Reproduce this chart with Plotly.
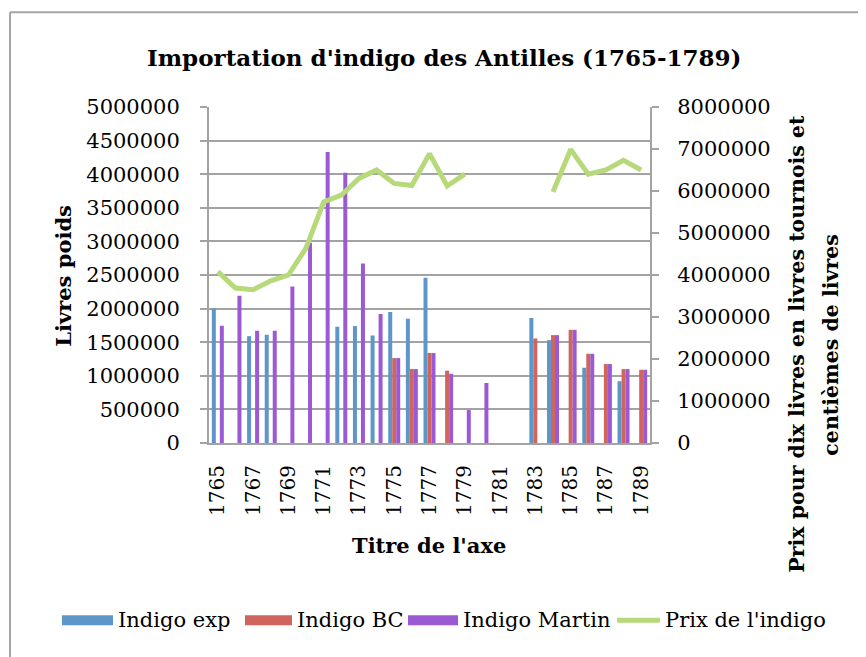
import plotly.graph_objects as go

years = list(range(1765, 1790))
indigo_exp = [2000000, None, 1590000, 1610000, None, None, None, 1730000, 1740000, 1600000,
              1950000, 1850000, 2460000, None, None, None, None, None, 1860000, 1530000,
              None, 1120000, None, 920000, None]
indigo_bc = [None, None, None, None, None, None, None, None, None, None,
             1264000, 1100000, 1340000, 1076000, None, None, None, None, 1556000, 1605000,
             1684000, 1328000, 1175000, 1100000, 1090000]
indigo_martin = [1745000, 2190000, 1670000, 1670000, 2330000, 2980000, 4330000, 4020000, 2670000, 1920000,
                 1264000, 1100000, 1338000, 1030000, 490000, 893000, None, None, None, 1605000,
                 1684000, 1328000, 1175000, 1100000, 1090000]
prix = [4080000, 3690000, 3650000, 3860000, 4000000, 4640000, 5740000, 5900000, 6300000, 6500000,
        6180000, 6130000, 6890000, 6120000, 6400000, None, None, None, None, 5980000,
        6990000, 6400000, 6500000, 6730000, 6500000]
tick_years = list(range(1765, 1790, 2))

# page body has an 8px margin: figure origin sits at (8, 8) in the window
OFF = 8
W, H = 866 - OFF, 657 - OFF
L, R, T, B = 209, 650, 107, 443.5   # window pixel coords of plot area
FONT = "DejaVu Serif"
GRID = "#A3A3A3"
C_EXP, C_BC, C_MAR, C_PRIX = "#5E96CA", "#CF655D", "#9B5AD3", "#B6D97A"

def px(x):
    return (x - L) / (R - L)

def py(y):
    return (B - y) / (B - T)

fig = go.Figure()
fig.add_trace(go.Bar(x=years, y=indigo_exp, name="Indigo exp", marker_color=C_EXP, marker_line_width=0))
fig.add_trace(go.Bar(x=years, y=indigo_bc, name="Indigo BC", marker_color=C_BC, marker_line_width=0))
fig.add_trace(go.Bar(x=years, y=indigo_martin, name="Indigo Martin", marker_color=C_MAR, marker_line_width=0))
fig.add_trace(go.Scatter(x=years, y=prix, name="Prix de l'indigo", yaxis="y2", mode="lines",
                         line=dict(color=C_PRIX, width=5), connectgaps=False))

fig.update_layout(
    width=W, height=H,
    margin=dict(l=L - OFF, r=866 - R, t=T - OFF, b=657 - B, pad=0),
    paper_bgcolor="white", plot_bgcolor="white",
    barmode="group", bargap=0.32, bargroupgap=0,
    showlegend=False,
    font=dict(family=FONT, size=21, color="#000000"),
    xaxis=dict(range=[1764.5, 1789.5], tickmode="array", tickvals=tick_years,
               ticktext=[str(v) for v in tick_years], tickangle=-90,
               showgrid=False, showline=True, linecolor=GRID, linewidth=2,
               ticks="", ticklabelstandoff=12, zeroline=False,
               tickfont=dict(family=FONT, size=20)),
    yaxis=dict(range=[0, 5000000], dtick=500000, tickformat="d", showgrid=True,
               gridcolor=GRID, gridwidth=2, showline=True, linecolor=GRID, linewidth=2,
               ticks="outside", ticklen=7, tickcolor=GRID, tickwidth=2,
               ticklabelstandoff=16, zeroline=False,
               tickfont=dict(family=FONT, size=21)),
    yaxis2=dict(range=[0, 8000000], dtick=1000000, tickformat="d", overlaying="y",
                side="right", showgrid=False, showline=True, linecolor=GRID, linewidth=2,
                ticks="outside", ticklen=7, tickcolor=GRID, tickwidth=2,
                ticklabelstandoff=14, zeroline=False,
                tickfont=dict(family=FONT, size=21)),
)

ann = []
ann.append(dict(text="<b>Importation d'indigo des Antilles (1765-1789)</b>", x=px(444), y=py(57),
                xref="paper", yref="paper", showarrow=False, xanchor="center", yanchor="middle",
                font=dict(family=FONT, size=23)))
ann.append(dict(text="<b>Livres poids</b>", x=px(64), y=py(276), xref="paper", yref="paper",
                showarrow=False, textangle=-90, xanchor="center", yanchor="middle",
                font=dict(family=FONT, size=21)))
ann.append(dict(text="<b>Prix pour dix livres en livres tournois et</b>", x=px(797), y=py(344),
                xref="paper", yref="paper", showarrow=False, textangle=-90,
                xanchor="center", yanchor="middle", font=dict(family=FONT, size=20.5)))
ann.append(dict(text="<b>centièmes de livres</b>", x=px(831), y=py(345),
                xref="paper", yref="paper", showarrow=False, textangle=-90,
                xanchor="center", yanchor="middle", font=dict(family=FONT, size=20.5)))
ann.append(dict(text="<b>Titre de l'axe</b>", x=px(429), y=py(546), xref="paper", yref="paper",
                showarrow=False, xanchor="center", yanchor="middle",
                font=dict(family=FONT, size=21)))

shapes = []
# chart frame
shapes.append(dict(type="line", xref="paper", yref="paper", x0=px(10), x1=px(10), y0=py(12), y1=py(700),
                   line=dict(color="#A6A6A6", width=2)))
shapes.append(dict(type="line", xref="paper", yref="paper", x0=px(10), x1=px(900), y0=py(12), y1=py(12),
                   line=dict(color="#A6A6A6", width=2)))

# custom legend
leg_y = 621
items = [("Indigo exp", C_EXP, 62, 113, "bar"),
         ("Indigo BC", C_BC, 245, 292, "bar"),
         ("Indigo Martin", C_MAR, 408, 458, "bar"),
         ("Prix de l'indigo", C_PRIX, 617, 660, "line")]
for name, col, x0, x1, kind in items:
    if kind == "bar":
        shapes.append(dict(type="rect", xref="paper", yref="paper", x0=px(x0), x1=px(x1),
                           y0=py(leg_y + 5), y1=py(leg_y - 5), fillcolor=col, line=dict(width=0)))
    else:
        shapes.append(dict(type="line", xref="paper", yref="paper", x0=px(x0), x1=px(x1),
                           y0=py(leg_y), y1=py(leg_y), line=dict(color=col, width=5)))
    ann.append(dict(text=name, x=px(x1 + 3), y=py(leg_y), xref="paper", yref="paper",
                    showarrow=False, xanchor="left", yanchor="middle",
                    font=dict(family=FONT, size=21)))

fig.update_layout(annotations=ann, shapes=shapes)
fig.write_html("out.html")
